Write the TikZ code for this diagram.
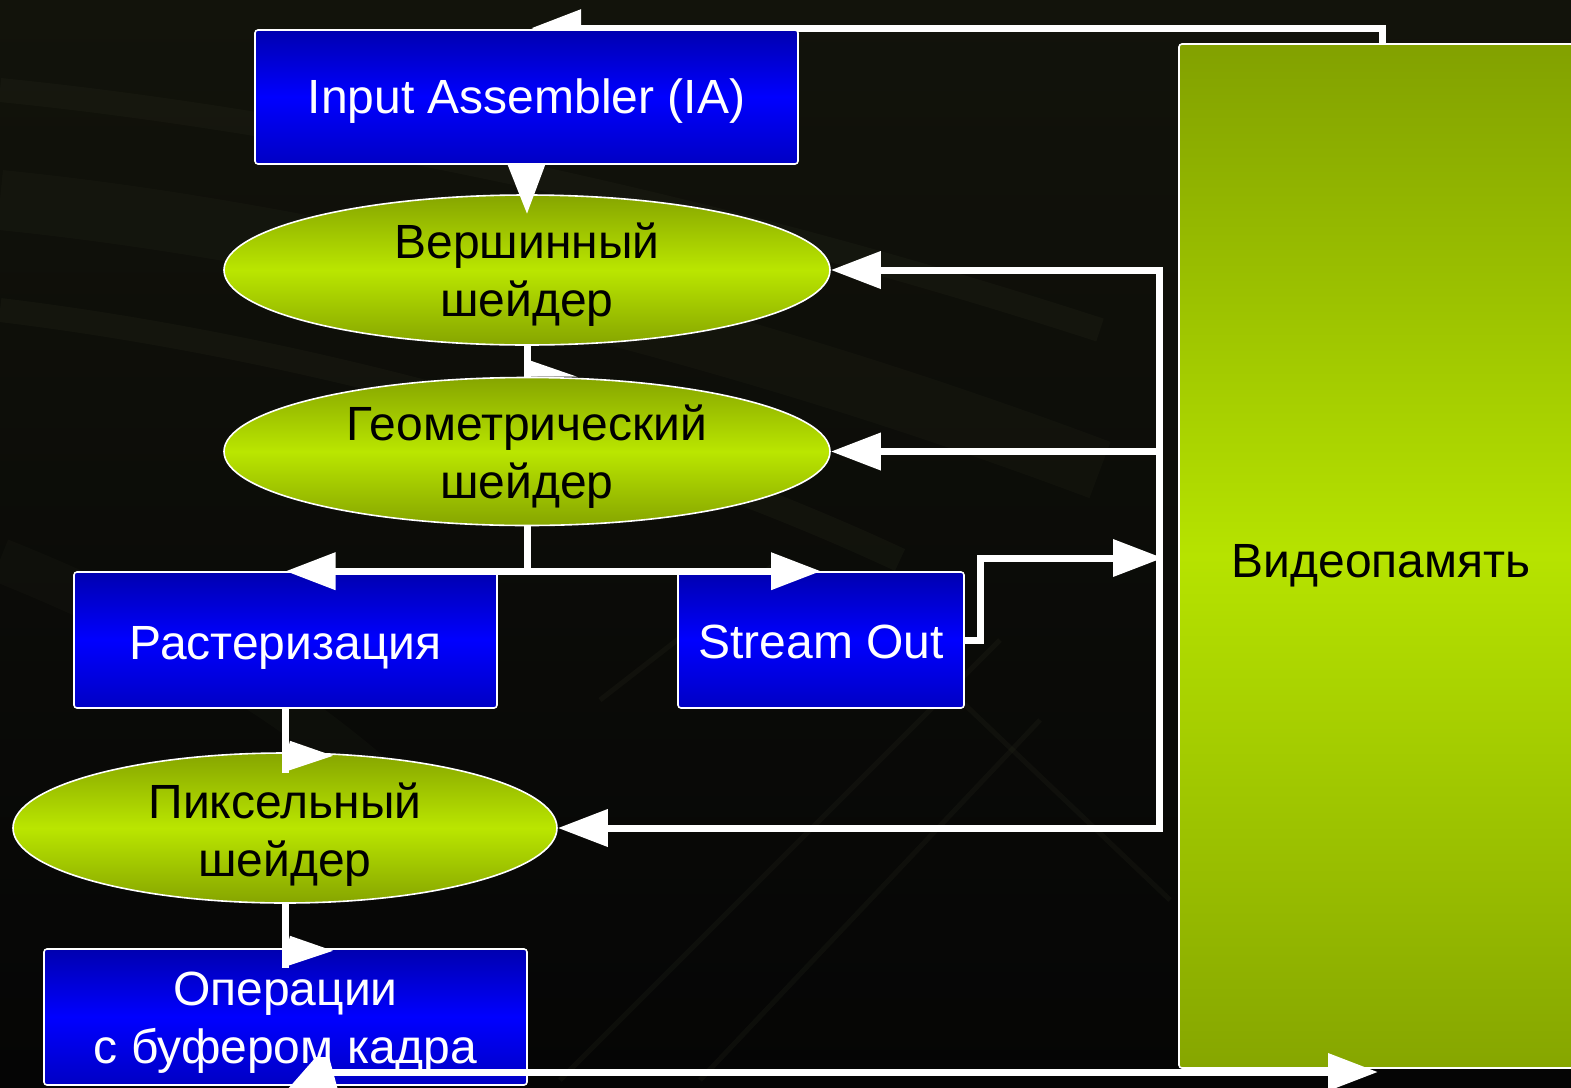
\documentclass[tikz,border=0pt]{standalone}
\usepackage{fontspec}
\setmainfont{Liberation Sans}
\usetikzlibrary{arrows.meta,shapes.geometric,calc}

\definecolor{bgtop}{HTML}{12130B}
\definecolor{bgbot}{HTML}{050505}
\definecolor{bgband}{HTML}{2A2C1E}
\definecolor{boxtop}{HTML}{0000B0}
\definecolor{boxmid}{HTML}{0000FF}
\definecolor{boxbot}{HTML}{0000C4}
\definecolor{limetop}{HTML}{86A500}
\definecolor{limemid}{HTML}{BAE600}
\definecolor{limebot}{HTML}{86A500}
\definecolor{memtop}{HTML}{82A100}
\definecolor{memmid}{HTML}{B6E300}
\definecolor{membot}{HTML}{86A600}

\pgfdeclarelayer{back}
\pgfdeclarelayer{under}
\pgfsetlayers{back,under,main}

% text block with struts, lowered inside its own box
\newcommand{\blocktext}[2][3pt]{%
  \raisebox{-#1}[\height][\depth]{\begin{tabular}{@{}c@{}}#2\end{tabular}}}
% two-line block for the ellipses: same centre, but a flat box so the
% ellipse keeps its given size
\newcommand{\shadertext}[2][3pt]{%
  \raisebox{-#1}[\dimexpr\height-\depth\relax][0pt]{\begin{tabular}{@{}c@{}}#2\end{tabular}}}

\tikzset{
  labelfont/.style={font=\fontsize{24pt}{29pt}\selectfont},
  stage/.style={draw=white, line width=0.8pt, rounded corners=1.5pt,
    top color=boxtop, bottom color=boxbot, middle color=boxmid,
    text=white, labelfont, inner sep=0pt},
  shader/.style={ellipse, draw=white, line width=0.8pt,
    top color=limetop, bottom color=limebot, middle color=limemid,
    text=black, labelfont, inner sep=0pt},
  memory/.style={draw=white, line width=0.8pt, rounded corners=1.5pt,
    top color=memtop, bottom color=membot, middle color=memmid,
    text=black, labelfont, inner sep=0pt},
  bare/.style={draw=white, line width=3.5pt, line join=miter},
  conn/.style={bare, -{Triangle[length=25pt,width=18pt]}},
  conntwo/.style={bare, {Triangle[length=25pt,width=18pt]}-{Triangle[length=25pt,width=18pt]}},
  band/.style={draw=bgband, line width=12pt, opacity=0.22},
  streak/.style={draw=bgband, line width=2.5pt, opacity=0.22},
}

\begin{document}
\begin{tikzpicture}[x=0.5pt,y=-0.5pt]
\useasboundingbox (0,0) rectangle (1571,1088);

% backdrop with faint swooshes
\begin{pgfonlayer}{back}
  \shade[top color=bgtop, bottom color=bgbot] (0,0) rectangle (1571,1088);
  \draw[band] (0,90) .. controls (300,120) and (700,200) .. (1100,330);
  \draw[band, line width=30pt, opacity=0.18] (0,200) .. controls (300,230) and (700,320) .. (1100,470);
  \draw[band] (0,310) .. controls (250,340) and (600,420) .. (900,560);
  \draw[band, line width=22pt, opacity=0.15] (0,560) .. controls (150,620) and (300,700) .. (420,820);
  \draw[streak] (560,1080) -- (1000,640);
  \draw[streak] (700,1080) -- (1040,720);
  \draw[streak] (960,700) -- (1170,900);
  \draw[streak] (600,700) -- (780,560);
\end{pgfonlayer}

% pipeline stages
\node[stage, minimum width=271.5pt, minimum height=67pt] (ia) at (526.5,97) {\blocktext[2.2pt]{Input Assembler (IA)}};
\node[shader, minimum width=303pt, minimum height=75pt] (vs) at (527,270) {\shadertext[2.8pt]{Вершинный\\шейдер}};
\node[shader, minimum width=303pt, minimum height=74pt] (gs) at (527,451.5) {\shadertext[3.2pt]{Геометрический\\шейдер}};
\node[stage, minimum width=211.5pt, minimum height=68pt] (ras) at (285.5,640) {\blocktext[4pt]{Растеризация}};
\node[stage, minimum width=143pt, minimum height=68pt] (so) at (821,640) {\blocktext[3.2pt]{Stream Out}};
\node[shader, minimum width=272pt, minimum height=75pt] (ps) at (285,828) {\shadertext[3.7pt]{Пиксельный\\шейдер}};
\node[stage, minimum width=241.5pt, minimum height=68pt] (ops) at (285.5,1017) {\blocktext[2.9pt]{Операции\\с буфером кадра}};
\node[memory, minimum width=202pt, minimum height=512pt] (vm) at (1381,556) {\blocktext[4.7pt]{Видеопамять}};

% helper points
\coordinate (busx) at (1159,0);
\coordinate (sobus) at (1163,558);
\coordinate (fb) at (320,1072);
\coordinate (split) at (gs.south |- ras.north);

% memory -> input assembler (runs under the IA box)
\begin{pgfonlayer}{under}
  \draw[conn] ($(vm.north)+(1,0)$) |- ($(ia.north)+(4.5,-1)$);
\end{pgfonlayer}

% IA -> vertex shader
\draw[conn] (ia.south) -- ($(vs.north)+(0,20)$);

% vertex -> geometry shader
\draw[bare] (vs.south) -- (gs.north);
\fill[white] ($(vs.south)+(4,15)$) -- ($(gs.north)+(50,0)$) -- ($(gs.north)+(4,0)$) -- cycle;

% geometry shader fan-out
\draw[bare] (gs.south) -- (split);
\draw[conn] (split) -- (ras.north);
\draw[conn] (split) -- (so.north);

% stream out -> memory bus
\draw[conn] (so.east) -- ++(16,0) |- (sobus);

% memory bus feeding the shaders
\draw[conntwo] (vs.east) -- (vs.east -| busx) -- (ps.east -| busx) -- (ps.east);
\draw[conn] (gs.east -| busx) -- (gs.east);

% rasterizer -> pixel shader
\draw[bare] (ras.south) -- ($(ras.south)+(0,64)$);
\fill[white] ($(ras.south)+(4.5,32)$) -- ($(ras.south)+(47.5,47)$) -- ($(ras.south)+(-3.5,64)$) -- cycle;

% pixel shader -> output merger
\draw[bare] (ps.south) -- ($(ps.south)+(0,64)$);
\fill[white] ($(ps.south)+(5,32)$) -- ($(ps.south)+(48,47)$) -- ($(ps.south)+(-3,64)$) -- cycle;

% output merger -> memory
\draw[conn] (fb) -- ($(fb -| vm.south)+(-3,0)$);
\fill[white] ($(fb)+(-33,18)$) -- ($(fb)+(-4,-15)$) -- ($(fb)+(9,-15)$) -- ($(fb)+(18,18)$) -- cycle;
\end{tikzpicture}
\end{document}
